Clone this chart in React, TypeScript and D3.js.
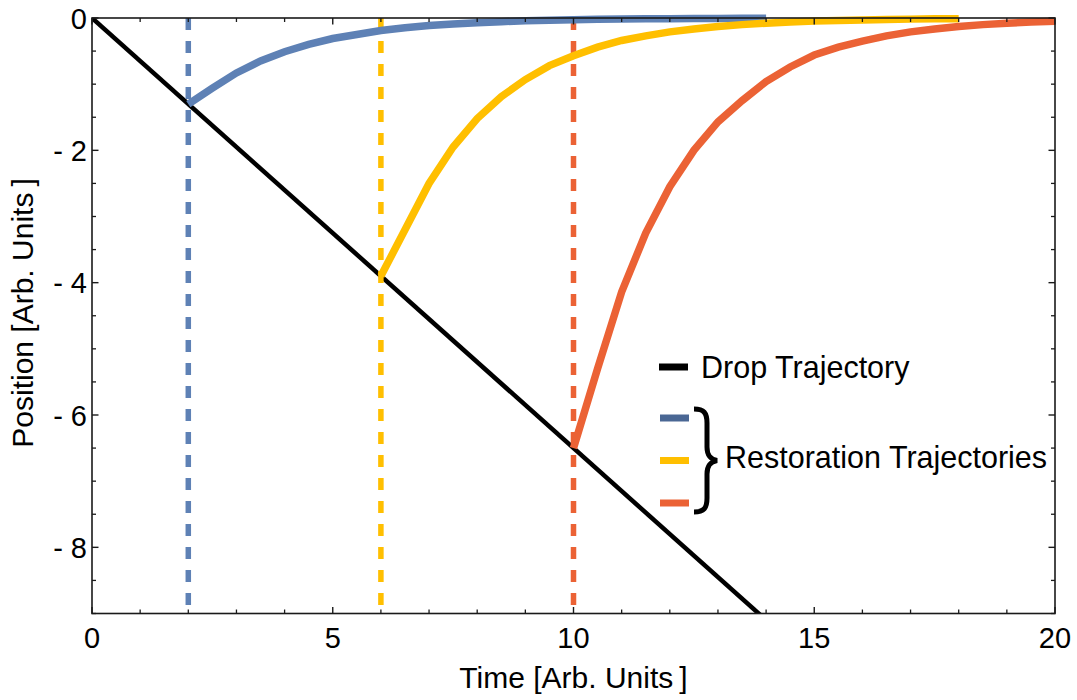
import React from "react";
import * as d3 from "d3";

const dropTimes = [0, 20];
const dropPositions = [0, -13];

const blueTimes = [2, 2.5, 3, 3.5, 4, 4.5, 5, 5.5, 6, 6.5, 7, 7.5, 8, 8.5, 9, 9.5, 10, 10.5, 11, 11.5, 12, 12.5, 13, 13.5, 14];
const blueValues = [-1.3, -1.06, -0.83, -0.65, -0.51, -0.4, -0.31, -0.25, -0.19, -0.148, -0.115, -0.09, -0.07, -0.055, -0.043, -0.034, -0.026, -0.02, -0.016, -0.012, -0.01, -0.008, -0.006, -0.005, -0.004];

const yellowTimes = [6, 6.5, 7, 7.5, 8, 8.5, 9, 9.5, 10, 10.5, 11, 11.5, 12, 12.5, 13, 13.5, 14, 14.5, 15, 15.5, 16, 16.5, 17, 17.5, 18];
const yellowValues = [-3.9, -3.2, -2.5, -1.95, -1.52, -1.19, -0.93, -0.72, -0.57, -0.44, -0.34, -0.27, -0.21, -0.165, -0.13, -0.1, -0.078, -0.06, -0.047, -0.037, -0.029, -0.022, -0.017, -0.013, -0.01];

const redTimes = [10, 10.5, 11, 11.5, 12, 12.5, 13, 13.5, 14, 14.5, 15, 15.5, 16, 16.5, 17, 17.5, 18, 18.5, 19, 19.5, 20];
const redValues = [-6.5, -5.3, -4.14, -3.25, -2.55, -2.0, -1.57, -1.25, -0.96, -0.74, -0.56, -0.44, -0.35, -0.27, -0.21, -0.165, -0.13, -0.1, -0.08, -0.06, -0.05];

const dropMarkTimes = [2, 6, 10];

const xMajorTicks = [0, 5, 10, 15, 20];
const yMajorTicks = [0, -2, -4, -6, -8];

const legendDropLabel = "Drop Trajectory";
const legendRestoreLabel = "Restoration Trajectories";
const xTitle = "Time [Arb. Units\u2009]";
const yTitle = "Position [Arb. Units\u2009]";

const COLORS = {
  blue: "#5E81B5",
  yellow: "#FFBF00",
  red: "#EB6235",
  legendBlue: "#4A6794",
};

export default function App() {
  const W = 1077;
  const H = 700;
  const left = 92;
  const right = 1055;
  const top = 18;
  const bottom = 613.5;

  const x = d3.scaleLinear().domain([0, 20]).range([left, right]);
  const y = d3.scaleLinear().domain([-9, 0]).range([bottom, top]);

  const line = d3
    .line<[number, number]>()
    .x((d) => x(d[0]))
    .y((d) => y(d[1]));

  const zip = (a: number[], b: number[]) => a.map((t, i) => [t, b[i]] as [number, number]);

  const xMinor = d3.range(0, 21, 1).filter((v) => !xMajorTicks.includes(v));
  const yMinor = d3.range(0, -9.01, -0.5).filter((v) => !yMajorTicks.includes(v));

  const font = "'Liberation Sans', Arial, sans-serif";
  const frameColor = "#1a1a1a";

  const series = [
    { t: blueTimes, v: blueValues, c: COLORS.blue },
    { t: yellowTimes, v: yellowValues, c: COLORS.yellow },
    { t: redTimes, v: redValues, c: COLORS.red },
  ];
  const dashColors = [COLORS.blue, COLORS.yellow, COLORS.red];

  return (
    <svg
      width={W}
      height={H}
      style={{ position: "absolute", left: 0, top: 0, background: "#fff" }}
      fontFamily={font}
    >
      <defs>
        <clipPath id="plotClip">
          <rect x={left} y={top} width={right - left} height={bottom - top} />
        </clipPath>
      </defs>

      {/* drop trajectory */}
      <path
        d={line(zip(dropTimes, dropPositions)) || ""}
        fill="none"
        stroke="#000"
        strokeWidth={4.5}
        clipPath="url(#plotClip)"
      />

      {/* dashed verticals */}
      {dropMarkTimes.map((t, i) => (
        <line
          key={"dash" + i}
          x1={x(t)}
          x2={x(t)}
          y1={top}
          y2={bottom}
          stroke={dashColors[i]}
          strokeWidth={5.5}
          strokeDasharray="12 11"
        />
      ))}

      {/* restoration trajectories */}
      {series.map((s, i) => (
        <path
          key={"s" + i}
          d={line(zip(s.t, s.v)) || ""}
          fill="none"
          stroke={s.c}
          strokeWidth={7.5}
        />
      ))}

      {/* frame */}
      <rect
        x={left}
        y={top}
        width={right - left}
        height={bottom - top}
        fill="none"
        stroke={frameColor}
        strokeWidth={1.6}
      />

      {/* x ticks */}
      {xMajorTicks.map((t) => (
        <g key={"xm" + t}>
          <line x1={x(t)} x2={x(t)} y1={bottom} y2={bottom - 6.5} stroke={frameColor} strokeWidth={1.4} />
          <line x1={x(t)} x2={x(t)} y1={top} y2={top + 6.5} stroke={frameColor} strokeWidth={1.4} />
          <text x={x(t)} y={bottom + 34} fontSize={29} textAnchor="middle" fill="#000">
            {String(t)}
          </text>
        </g>
      ))}
      {xMinor.map((t) => (
        <g key={"xn" + t}>
          <line x1={x(t)} x2={x(t)} y1={bottom} y2={bottom - 4} stroke={frameColor} strokeWidth={1.3} />
          <line x1={x(t)} x2={x(t)} y1={top} y2={top + 4} stroke={frameColor} strokeWidth={1.3} />
        </g>
      ))}

      {/* y ticks */}
      {yMajorTicks.map((v) => (
        <g key={"ym" + v}>
          <line x1={left} x2={left + 6.5} y1={y(v)} y2={y(v)} stroke={frameColor} strokeWidth={1.4} />
          <line x1={right} x2={right - 6.5} y1={y(v)} y2={y(v)} stroke={frameColor} strokeWidth={1.4} />
          <text x={left - 5} y={y(v) + 10.5} fontSize={29} textAnchor="end" fill="#000">
            {v < 0 ? "- " + Math.abs(v) : String(v)}
          </text>
        </g>
      ))}
      {yMinor.map((v) => (
        <g key={"yn" + v}>
          <line x1={left} x2={left + 4} y1={y(v)} y2={y(v)} stroke={frameColor} strokeWidth={1.3} />
          <line x1={right} x2={right - 4} y1={y(v)} y2={y(v)} stroke={frameColor} strokeWidth={1.3} />
        </g>
      ))}

      {/* axis titles */}
      <text x={(left + right) / 2} y={688} fontSize={30} textAnchor="middle" fill="#000">
        {xTitle}
      </text>
      <text
        transform={`translate(33, 313) rotate(-90)`}
        fontSize={30}
        textAnchor="middle"
        fill="#000"
      >
        {yTitle}
      </text>

      {/* legend */}
      <line x1={659} x2={688} y1={367} y2={367} stroke="#000" strokeWidth={7} />
      <text x={701} y={378} fontSize={30.5} fill="#000">
        {legendDropLabel}
      </text>
      <line x1={660} x2={689} y1={418} y2={418} stroke={COLORS.legendBlue} strokeWidth={7} />
      <line x1={660} x2={689} y1={460.5} y2={460.5} stroke={COLORS.yellow} strokeWidth={7} />
      <line x1={660} x2={689} y1={503} y2={503} stroke={COLORS.red} strokeWidth={7} />
      <path
        d="M 694,409 C 704,409 707,413 707,423 L 707,447 C 707,455 710,459 717,460.5 C 710,462 707,466 707,474 L 707,498 C 707,508 704,512 694,512"
        fill="none"
        stroke="#000"
        strokeWidth={5}
      />
      <text x={725} y={468} fontSize={30.5} fill="#000">
        {legendRestoreLabel}
      </text>
    </svg>
  );
}
